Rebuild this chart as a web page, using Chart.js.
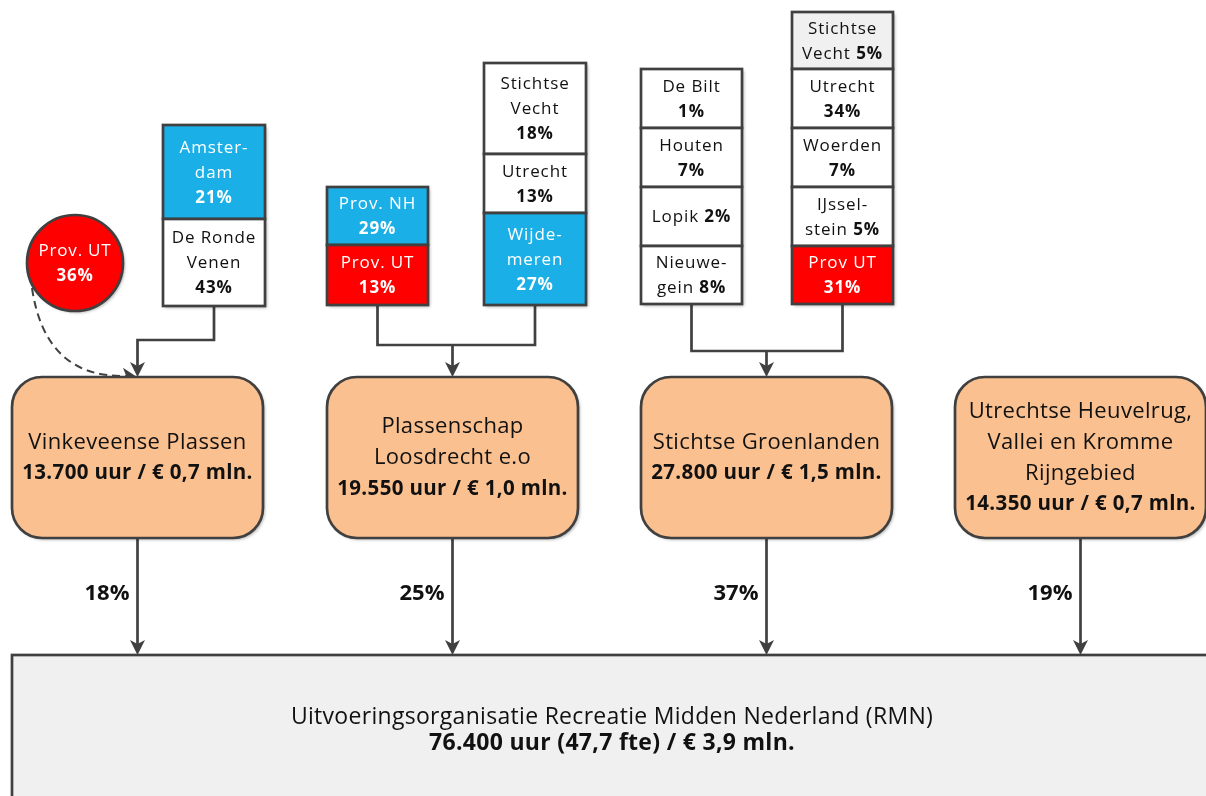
<!DOCTYPE html>
<html>
<head>
<meta charset="utf-8">
<script src="https://cdn.jsdelivr.net/npm/chart.js@4.4.1/dist/chart.umd.min.js"></script>
<style>
  html, body { margin: 0; padding: 0; background: #fff; }
  #wrap { width: 1206px; height: 796px; }
</style>
</head>
<body>
<div id="wrap"><canvas id="flow" width="1206" height="796"></canvas></div>
<script>
// ---- data ----
const regions = ['Vinkeveense Plassen', 'Plassenschap\nLoosdrecht e.o', 'Stichtse Groenlanden',
                 'Utrechtse Heuvelrug,\nVallei en Kromme\nRijngebied'];
const regionHours = [13700, 19550, 27800, 14350];
const regionCost = [0.7, 1.0, 1.5, 0.7];          // mln euro
const regionShare = [18, 25, 37, 19];             // % of RMN

// contributors per region (first one is the circle above Vinkeveen)
const contributorNames = ['Prov. UT',
  'Amster-\ndam', 'De Ronde\nVenen',
  'Prov. NH', 'Prov. UT',
  'Stichtse\nVecht', 'Utrecht', 'Wijde-\nmeren',
  'De Bilt', 'Houten', 'Lopik', 'Nieuwe-\ngein',
  'Stichtse\nVecht', 'Utrecht', 'Woerden', 'IJssel-\nstein', 'Prov UT'];
const contributorShares = [36, 21, 43, 29, 13, 18, 13, 27, 1, 7, 2, 8, 5, 34, 7, 5, 31];
const contributorKind = ['prov', 'nh', 'gem', 'nh', 'prov', 'gem', 'gem', 'nh',
  'gem', 'gem', 'gem', 'gem', 'extern', 'gem', 'gem', 'gem', 'prov'];

const orgName = 'Uitvoeringsorganisatie Recreatie Midden Nederland (RMN)';
const totalHours = 76400;
const totalFte = 47.7;
const totalCost = 3.9;

// ---- layout & styles ----
const FONT = '"Open Sans", "Noto Sans", sans-serif';
const LINE = '#404040';
const LW = 2.7;
const fills = { nh: '#1AAFE6', prov: '#FF0000', gem: '#FFFFFF', extern: '#F0F0F0' };
const textColors = { nh: '#fff', prov: '#fff', gem: '#111', extern: '#111' };

const regionBox = { left: [12, 327, 641, 955], top: 377, w: 251, h: 161, r: 30,
                    textMid: 458, gap: 31, joinY: [340, 345, 351] };
const circle = { x: 75, y: 263, r: 48 };
const stacks = [
  { region: 0, x: 163, w: 102, edges: [125, 219, 306], inline: [0, 0] },
  { region: 1, x: 327, w: 101, edges: [187, 245, 305], inline: [0, 0] },
  { region: 1, x: 484, w: 102, edges: [63, 154, 213, 305], inline: [0, 0, 0] },
  { region: 2, x: 641, w: 101, edges: [69, 128, 187, 246, 304], inline: [0, 0, 1, 1] },
  { region: 2, x: 792, w: 101, edges: [12, 69, 128, 187, 246, 304], inline: [1, 0, 0, 1, 0] }
];
const bottomBox = { x: 12, y: 655, textMid: 730, gap: 26 };

const fmtInt = n => String(n).replace(/\B(?=(\d{3})+(?!\d))/g, '.');
const fmtDec = v => v.toFixed(1).replace('.', ',');

function richLine(ctx, segs, cx, cy, size, boldSize, color, spacing) {
  ctx.letterSpacing = spacing + 'px';
  const fontOf = s => s.bold ? 'bold ' + boldSize + 'px ' + FONT : size + 'px ' + FONT;
  let total = 0;
  segs.forEach(s => {
    ctx.font = fontOf(s);
    s.w = ctx.measureText(s.text).width;
    total += s.w;
  });
  let x = cx - total / 2;
  ctx.fillStyle = color;
  ctx.textAlign = 'left';
  ctx.textBaseline = 'middle';
  segs.forEach(s => {
    ctx.font = fontOf(s);
    ctx.fillText(s.text, x, cy);
    x += s.w;
  });
  ctx.letterSpacing = '0px';
}

function drawLines(ctx, lines, cx, mid, gap, size, boldSize, color, spacing) {
  const y0 = mid - (lines.length - 1) * gap / 2;
  lines.forEach((segs, i) => richLine(ctx, segs, cx, y0 + i * gap, size, boldSize, color, spacing));
}

function contributorLines(i, inline) {
  const parts = contributorNames[i].split('\n');
  const pct = contributorShares[i] + '%';
  const lines = parts.map(p => [{ text: p, bold: false }]);
  if (inline) lines[lines.length - 1].push({ text: ' ' + pct, bold: true });
  else lines.push([{ text: pct, bold: true }]);
  return lines;
}

function arrowHead(ctx, tx, ty, ang) {
  const len = 15, half = 7.5;
  ctx.save();
  ctx.translate(tx, ty);
  ctx.rotate(ang);
  ctx.beginPath();
  ctx.moveTo(0, 0);
  ctx.lineTo(-len, -half);
  ctx.lineTo(-len + 4, 0);
  ctx.lineTo(-len, half);
  ctx.closePath();
  ctx.fillStyle = LINE;
  ctx.fill();
  ctx.restore();
}

function shadowOn(ctx) {
  ctx.shadowColor = 'rgba(0,0,0,0.28)';
  ctx.shadowOffsetX = 2;
  ctx.shadowOffsetY = 2;
  ctx.shadowBlur = 3;
}
function shadowOff(ctx) {
  ctx.shadowColor = 'transparent';
  ctx.shadowBlur = 0; ctx.shadowOffsetX = 0; ctx.shadowOffsetY = 0;
}

const diagramPlugin = {
  id: 'rmnDiagram',
  afterDraw(chart) {
    const { ctx } = chart;
    const sx = chart.scales.x, sy = chart.scales.y;
    const X = v => sx.getPixelForValue(v);
    const Y = v => sy.getPixelForValue(v);
    ctx.save();
    ctx.strokeStyle = LINE;
    ctx.lineJoin = 'miter';

    // connectors from contributor stacks to the regions
    regions.forEach((name, ri) => {
      const rc = regionBox.left[ri] + regionBox.w / 2;
      const own = stacks.filter(s => s.region === ri);
      if (!own.length) return;
      const jy = regionBox.joinY[ri];
      const xs = own.map(s => s.x + s.w / 2).concat([rc]);
      ctx.lineWidth = LW;
      ctx.beginPath();
      own.forEach(s => {
        ctx.moveTo(X(s.x + s.w / 2), Y(s.edges[s.edges.length - 1]));
        ctx.lineTo(X(s.x + s.w / 2), Y(jy));
      });
      ctx.moveTo(X(Math.min(...xs)) - LW / 2, Y(jy));
      ctx.lineTo(X(Math.max(...xs)) + LW / 2, Y(jy));
      ctx.moveTo(X(rc), Y(jy));
      ctx.lineTo(X(rc), Y(regionBox.top) - 10);
      ctx.stroke();
      arrowHead(ctx, X(rc), Y(regionBox.top), Math.PI / 2);
    });

    // dashed curve from the circle
    ctx.lineWidth = 2;
    ctx.setLineDash([8, 5]);
    ctx.beginPath();
    ctx.moveTo(X(32), Y(288));
    ctx.quadraticCurveTo(X(45), Y(378), X(126), Y(376));
    ctx.stroke();
    ctx.setLineDash([]);
    arrowHead(ctx, X(137), Y(377), 0.12);

    // arrows from regions to RMN
    regions.forEach((name, ri) => {
      const rc = regionBox.left[ri] + regionBox.w / 2;
      ctx.lineWidth = LW;
      ctx.beginPath();
      ctx.moveTo(X(rc), Y(regionBox.top + regionBox.h));
      ctx.lineTo(X(rc), Y(bottomBox.y) - 10);
      ctx.stroke();
      arrowHead(ctx, X(rc), Y(bottomBox.y), Math.PI / 2);
      ctx.font = 'bold 22px ' + FONT;
      ctx.fillStyle = '#111';
      ctx.textAlign = 'right';
      ctx.textBaseline = 'middle';
      ctx.fillText(regionShare[ri] + '%', X(rc) - 8, Y(594));
    });

    // RMN box
    const bw = X(1206) - X(bottomBox.x) + 10, bh = Y(796) - Y(bottomBox.y) + 10;
    shadowOn(ctx);
    ctx.fillStyle = '#F0F0F0';
    ctx.fillRect(X(bottomBox.x), Y(bottomBox.y), bw, bh);
    shadowOff(ctx);
    ctx.lineWidth = LW;
    ctx.strokeRect(X(bottomBox.x), Y(bottomBox.y), bw, bh);
    drawLines(ctx, [
      [{ text: orgName, bold: false }],
      [{ text: fmtInt(totalHours) + ' uur (' + fmtDec(totalFte) + ' fte) / € ' + fmtDec(totalCost) + ' mln.', bold: true }]
    ], X(612), Y(bottomBox.textMid), bottomBox.gap, 23, 23, '#111', 0.3);

    // region boxes
    regions.forEach((name, ri) => {
      const x0 = X(regionBox.left[ri]), y0 = Y(regionBox.top);
      const w = regionBox.w, h = regionBox.h;
      shadowOn(ctx);
      ctx.beginPath();
      ctx.roundRect(x0, y0, w, h, regionBox.r);
      ctx.fillStyle = '#FAC08F';
      ctx.fill();
      shadowOff(ctx);
      ctx.lineWidth = LW;
      ctx.stroke();
      const lines = name.split('\n').map(t => [{ text: t, bold: false }]);
      lines.push([{ text: fmtInt(regionHours[ri]) + ' uur / € ' + fmtDec(regionCost[ri]) + ' mln.', bold: true }]);
      drawLines(ctx, lines, x0 + w / 2, Y(regionBox.textMid), regionBox.gap, 22, 20.5, '#111', 0.35);
    });

    // circle contributor
    shadowOn(ctx);
    ctx.beginPath();
    ctx.arc(X(circle.x), Y(circle.y), circle.r, 0, Math.PI * 2);
    ctx.fillStyle = fills[contributorKind[0]];
    ctx.fill();
    shadowOff(ctx);
    ctx.lineWidth = LW;
    ctx.stroke();
    drawLines(ctx, contributorLines(0, false), X(circle.x), Y(circle.y + 1), 25, 17, 17,
              textColors[contributorKind[0]], 0.8);

    // contributor stacks
    let ci = 1;
    stacks.forEach(s => {
      for (let k = 0; k < s.edges.length - 1; k++, ci++) {
        const top = Y(s.edges[k]), bot = Y(s.edges[k + 1]);
        const kind = contributorKind[ci];
        shadowOn(ctx);
        ctx.fillStyle = fills[kind];
        ctx.fillRect(X(s.x), top, s.w, bot - top);
        shadowOff(ctx);
        ctx.lineWidth = LW;
        ctx.strokeRect(X(s.x), top, s.w, bot - top);
        drawLines(ctx, contributorLines(ci, s.inline[k]), X(s.x) + s.w / 2, (top + bot) / 2 + 1, 25, 17, 17,
                  textColors[kind], 0.9);
      }
    });
    ctx.restore();
  }
};

new Chart(document.getElementById('flow'), {
  type: 'scatter',
  data: { datasets: [] },
  options: {
    responsive: false,
    animation: false,
    events: [],
    layout: { padding: 0 },
    plugins: { legend: { display: false }, tooltip: { enabled: false } },
    scales: {
      x: { type: 'linear', min: 0, max: 1206, display: false },
      y: { type: 'linear', min: 0, max: 796, reverse: true, display: false }
    }
  },
  plugins: [diagramPlugin]
});
</script>
</body>
</html>
